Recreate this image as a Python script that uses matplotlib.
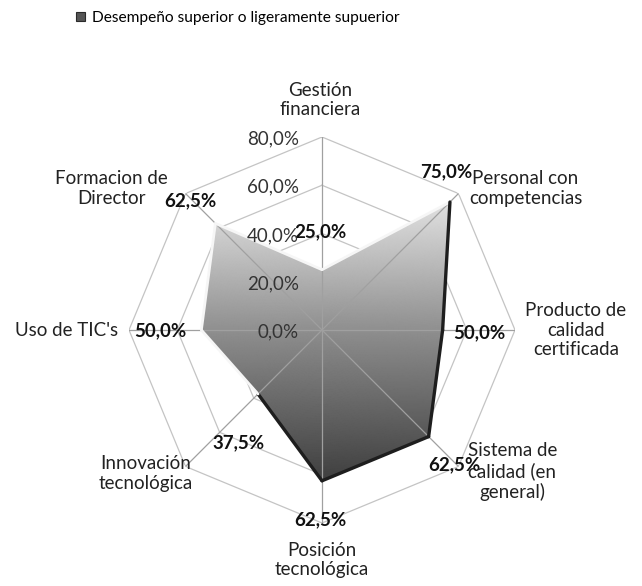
import numpy as np
import matplotlib
matplotlib.use("Agg")
import matplotlib.pyplot as plt
from matplotlib.patches import Patch
from matplotlib.colors import LinearSegmentedColormap

plt.rcParams['font.family'] = ['Lato', 'DejaVu Sans']

categories = ["Gestión\nfinanciera", "Personal con\ncompetencias",
              "Producto de\ncalidad\ncertificada", "Sistema de\ncalidad (en\ngeneral)",
              "Posición\ntecnológica", "Innovación\ntecnológica",
              "Uso de TIC's", "Formacion de\nDirector"]
values = [0.25, 0.75, 0.50, 0.625, 0.625, 0.375, 0.50, 0.625]
value_labels = ["25,0%", "75,0%", "50,0%", "62,5%", "62,5%", "37,5%", "50,0%", "62,5%"]
rings = [0.0, 0.2, 0.4, 0.6, 0.8]
ring_labels = ["0,0%", "20,0%", "40,0%", "60,0%", "80,0%"]
series_name = "Desempeño superior o ligeramente supuerior"

# label offsets in pixels (value labels, then category labels)
val_off = [(-2, 38), (-4, 30), (37, -3), (26, -28), (-2, -39), (-20, -49), (-41, -1), (-25, 23)]
cat_off = [(-2, 37), (67, 5), (61, 0), (54, -5), (0, -37), (-40, -7), (-11, 0), (-74, 5)]

W, H = 642, 586
fig = plt.figure(figsize=(W / 100, H / 100), dpi=100)
cx, cy, R = 322, 330, 193
ax = fig.add_axes([(cx - R) / W, (H - cy - R) / H, 2 * R / W, 2 * R / H], projection='polar')
ax.set_theta_zero_location('N')
ax.set_theta_direction(-1)
ax.set_ylim(0, 0.8)
ax.grid(False)
ax.set_xticks([])
ax.set_yticks([])
ax.spines['polar'].set_visible(False)
ax.patch.set_alpha(0)

n = len(categories)
theta = np.arange(n) * 2 * np.pi / n
tc = np.append(theta, theta[0])

# octagon rings
for r in rings[1:]:
    ax.plot(tc, [r] * (n + 1), color='#c4c4c4', lw=0.9, zorder=1)

# filled polygon with vertical gradient
vals_c = np.append(values, values[0])
poly = ax.fill(tc, vals_c, facecolor='none', edgecolor='none', zorder=2)[0]
tg = np.linspace(0, 2 * np.pi, 361)
rg = np.linspace(0, 0.8, 81)
T, Rr = np.meshgrid(tg, rg)
Y = Rr * np.cos(T)
cmap = LinearSegmentedColormap.from_list('g', ['#404040', '#8a8a8a', '#e4e4e4'])
mesh = ax.pcolormesh(T, Rr, Y, cmap=cmap, vmin=-0.62, vmax=0.55, shading='gouraud', zorder=2)
mesh.set_clip_path(poly)

# spokes
for t in theta:
    ax.plot([t, t], [0, 0.8], color='#a0a0a0', lw=0.9, zorder=3)

# edges: dark on lower/right side, light bevel on upper/left side
dark = {1, 2, 3, 4}
for i in range(n):
    j = (i + 1) % n
    if i in dark:
        ax.plot([theta[i], theta[j]], [values[i], values[j]], color='#1e1e1e', lw=2.4, zorder=4,
                solid_capstyle='round')
    else:
        ax.plot([theta[i], theta[j]], [values[i], values[j]], color='#f6f6f6', lw=2.0, zorder=4,
                solid_capstyle='round')

# value labels
for t, v, lab, off in zip(theta, values, value_labels, val_off):
    ax.annotate(lab, (t, v), xytext=off, textcoords='offset pixels', ha='center', va='center',
                fontsize=13.5, fontweight='bold', color='#111111', zorder=6)

# category labels
for i, (t, lab, off) in enumerate(zip(theta, categories, cat_off)):
    ax.annotate(lab, (t, 0.8), xytext=off, textcoords='offset pixels',
                ha='right' if i == 6 else 'center', va='center', fontsize=13.5,
                color='#222222', linespacing=1.2, zorder=6)

# radial tick labels
for r, lab in zip(rings, ring_labels):
    ax.annotate(lab, (0, r), xytext=(-23, -2), textcoords='offset pixels', ha='right', va='center',
                fontsize=13.5, color='#333333', zorder=6)

handle = Patch(facecolor='#555555', edgecolor='#2a2a2a', lw=0.8)
fig.legend([handle], [series_name], loc='center left', bbox_to_anchor=(76 / W, 1 - 18 / H),
           frameon=False, fontsize=11.2, handlelength=0.6, handleheight=0.6, handletextpad=0.45,
           borderpad=0, borderaxespad=0)

fig.savefig('out.png', dpi=100)
